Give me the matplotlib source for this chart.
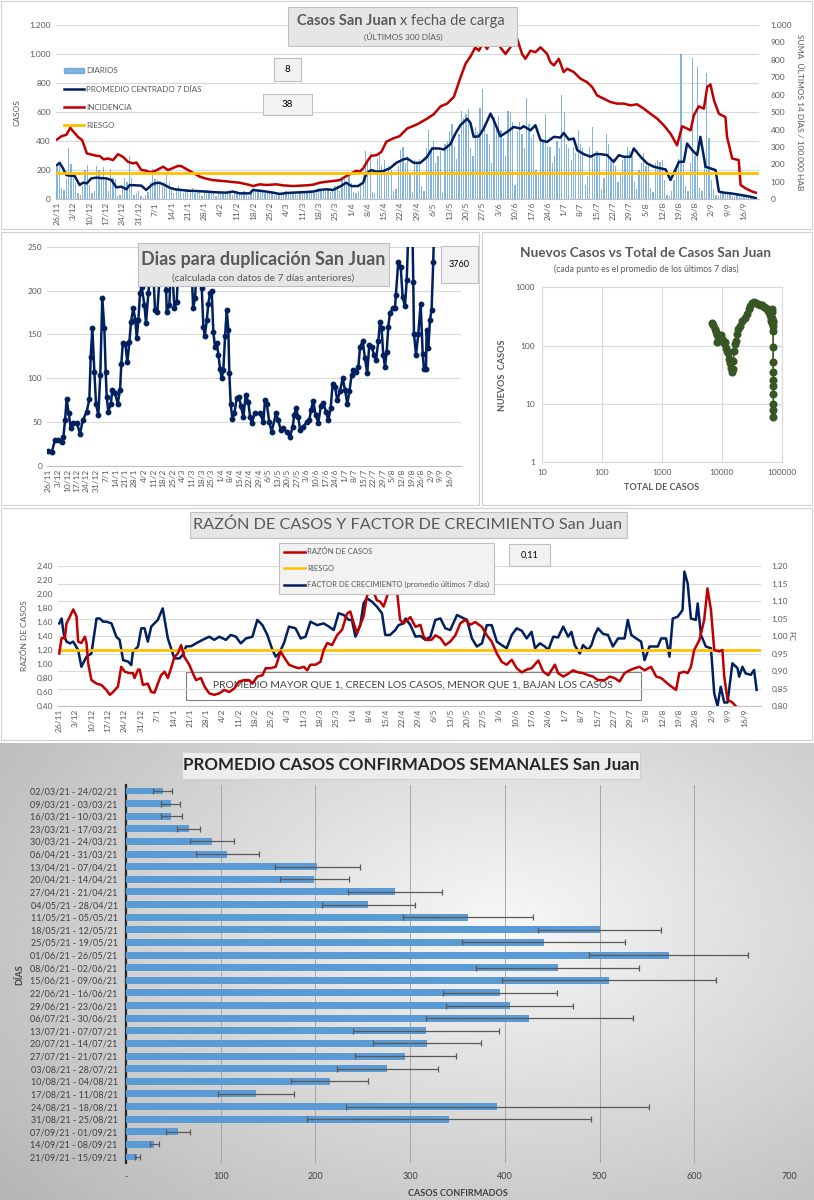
import numpy as np
import matplotlib.pyplot as plt
from matplotlib.patches import Rectangle, Patch
from matplotlib.lines import Line2D

plt.rcParams['font.family'] = ['Lato', 'DejaVu Sans']

# ---------------- datos ----------------
semana_ticks = ["26/11", "3/12", "10/12", "17/12", "24/12", "31/12", "7/1", "14/1", "21/1", "28/1",
                "4/2", "11/2", "18/2", "25/2", "4/3", "11/3", "18/3", "25/3", "1/4", "8/4", "15/4",
                "22/4", "29/4", "6/5", "13/5", "20/5", "27/5", "3/6", "10/6", "17/6", "24/6", "1/7",
                "8/7", "15/7", "22/7", "29/7", "5/8", "12/8", "19/8", "26/8", "2/9", "9/9", "16/9"]

# casos diarios desde 26/11 (300 dias)
diarios = [220, 230, 75, 65, 140, 350, 245,
           150, 110, 45, 30, 95, 200, 235,
           100, 40, 60, 230, 200, 150, 225,
           130, 60, 210, 150, 140, 20, 30,
           90, 150, 120, 300, 150, 30, 40,
           60, 20, 10, 30, 50, 120, 210,
           140, 130, 110, 90, 120, 170, 120,
           80, 40, 70, 90, 60, 40, 55,
           70, 60, 80, 40, 60, 55, 20,
           60, 65, 40, 55, 50, 20, 45,
           55, 40, 45, 60, 50, 30, 40,
           50, 40, 30, 60, 45, 20, 40,
           80, 70, 60, 65, 50, 40, 55,
           50, 45, 30, 40, 35, 30, 45,
           55, 50, 35, 45, 40, 30, 60,
           55, 45, 50, 65, 60, 40, 70,
           80, 70, 55, 60, 75, 50, 70,
           90, 100, 60, 130, 140, 100, 160,
           110, 50, 40, 60, 100, 170, 330,
           250, 320, 50, 45, 280, 310, 230,
           270, 190, 230, 200, 60, 70, 230,
           340, 360, 250, 300, 180, 50, 270,
           260, 280, 90, 60, 350, 480, 330,
           400, 250, 300, 330, 50, 380, 400,
           470, 520, 360, 280, 450, 610, 560,
           590, 620, 350, 300, 500, 460, 630,
           760, 520, 450, 380, 250, 570, 480,
           575, 480, 420, 300, 610, 600, 530,
           100, 470, 530, 450, 350, 700, 520,
           420, 450, 200, 180, 420, 400, 590,
           370, 360, 250, 300, 400, 350, 720,
           600, 380, 350, 270, 360, 320, 480,
           380, 350, 100, 160, 360, 500, 290,
           330, 300, 70, 150, 450, 380, 280,
           280, 230, 120, 180, 270, 300, 360,
           330, 300, 120, 70, 200, 250, 320,
           230, 250, 80, 50, 250, 270, 260,
           270, 130, 30, 20, 60, 130, 200,
           280, 1000, 240, 90, 60, 250, 970,
           300, 910, 80, 60, 250, 870, 420,
           130, 70, 30, 20, 60, 50, 40,
           50, 40, 20, 15, 40, 30, 25,
           20, 15, 10, 8, 12, 8]

prom_dia = [0, 1.1, 2.6, 4, 6.1, 7.6, 9.7, 11.1, 12.8, 14.7, 16.8, 19, 21.1, 23.3, 25.4, 27.5, 29.7,
            31.1, 34, 36.1, 38.2, 40.4, 41.8, 43.9, 46.1, 48.2, 50.4, 53.2, 56.1, 59.6, 63.9, 68.2,
            72.5, 75.3, 78.2, 82.5, 83.9, 86.7, 89.6, 92.4, 95.3, 98.1, 101, 103.9, 106.7, 109.6,
            112.4, 115.3, 118.1, 121, 123.8, 126, 128.8, 131, 132.4, 134.5, 136.7, 139.5, 142.4,
            145.2, 148.1, 149.8, 152.7, 155.5, 158.4, 160.5, 163.4, 165.5, 168.3, 170.5, 172.6,
            175.5, 176.9, 178.3, 180.5, 182.6, 185.5, 186.9, 189.7, 192.6, 195.4, 198.3, 199.7,
            202.6, 204.7, 206.9, 209.7, 212.6, 215.4, 216.8, 219, 221.1, 222.6, 225.4, 228.3,
            230.4, 232.5, 235.4, 238.2, 240.4, 242.5, 245.4, 246.8, 249.7, 252.5, 255.4, 258.2,
            260.4, 262.5, 263.9, 266.1, 268.2, 269.6, 271.8, 273.9, 275.3, 277.5, 279.6, 281.8,
            283.2, 285.3, 288.2, 292.5, 296.7, 299]
prom_val = [235, 251, 213, 167, 162, 160, 98, 114, 110, 144, 149, 146, 144, 133, 82, 87, 69,
            98, 96, 94, 64, 98, 110, 114, 98, 80, 69, 64, 59, 57, 53, 48,
            46, 53, 41, 41, 64, 59, 53, 46, 37, 43, 46, 48, 50, 53,
            64, 69, 64, 87, 114, 91, 91, 114, 178, 201, 190, 194, 213,
            251, 274, 281, 251, 251, 293, 350, 350, 343, 379, 453, 510,
            555, 526, 430, 434, 487, 590, 544, 434, 464, 498, 487, 503,
            475, 510, 407, 395, 430, 425, 457, 411, 418, 338, 311, 293,
            311, 311, 304, 258, 304, 293, 293, 350, 293, 247, 224, 213,
            206, 133, 178, 258, 258, 384, 338, 304, 430, 224, 213, 201,
            53, 46, 41, 30, 18, 8]

inc_dia = [0, 1.9, 4, 5.7, 7.1, 9, 10.8, 12.8, 14.7, 16.8, 18.3, 20, 21.8, 24, 26.1, 28.2, 30.4,
           32.5, 34, 36.1, 38.2, 39.7, 41.1, 43.2, 45.4, 47.5, 49.6, 51.8, 53.2, 56.1, 58.2, 61.1,
           63.9, 66.8, 72.5, 75.3, 78.2, 82.5, 83.9, 86.7, 89.6, 93.9, 96.7, 101, 106.7, 109.6,
           112.4, 115.3, 118.1, 121, 123.8, 126, 128.1, 129.5, 131, 133.1, 134.5, 136.7, 138.8,
           140.9, 143.8, 146.6, 149.8, 154.1, 158.4, 161.2, 164.1, 166.9, 169.8, 172.6, 174.8,
           176.9, 179, 180.5, 182.3, 184, 186.9, 189.7, 191.9, 194, 196.6, 199, 200.4, 202.6,
           204.7, 206.9, 209.7, 211.1, 212.6, 214.7, 216.8, 218.3, 221.1, 224, 226.8, 229, 231.1,
           234, 236.8, 239.7, 242.5, 245.4, 248.2, 251.1, 253.9, 256.8, 259.6, 262.5, 265.3,
           267.5, 269.6, 271.1, 272.5, 274.6, 276.8, 278.2, 279.6, 281.1, 283.2, 286, 286.7,
           288.9, 291.7, 292.5, 294.6, 297.5, 299]
inc_val = [343, 362, 370, 410, 387, 358, 339, 263, 257, 250, 248, 229, 234, 225, 259, 244, 215,
           206, 211, 168, 164, 156, 158, 171, 187, 168, 179, 192, 190, 168, 152, 130,
           118, 110, 103, 99, 95, 82, 76, 86, 82, 86, 80, 76, 80, 84,
           95, 101, 105, 110, 133, 149, 164, 158, 177, 225, 250, 253, 272,
           330, 349, 362, 406, 430, 463, 488, 533, 549, 587, 697, 777,
           819, 872, 853, 895, 863, 930, 872, 834, 872, 933, 834, 806, 853,
           844, 872, 834, 787, 768, 806, 730, 749, 730, 692, 672, 644, 596,
           577, 558, 549, 549, 539, 545, 520, 491, 463, 425, 377, 310,
           419, 406, 396, 482, 533, 520, 644, 659, 568, 491, 472, 358,
           234, 225, 82, 63, 44, 38]
riesgo_inc = 150

# dias para duplicacion (valores > 250 quedan fuera de escala)
dup_dia = [0, 2.5, 4.9, 7.3, 9.8, 11, 12.2, 13.4, 14.9, 16.4, 18.3, 20.8, 23.2, 25.2, 28.1, 30, 31,
           32.2, 33.7, 34.9, 36.6, 38, 39.5, 41, 42, 42.7, 43.9, 45.7, 46.9, 48.8, 50.8, 52.5, 53.4,
           54.5, 56.4, 57.8, 59.3, 60.5, 62.2, 63.7, 64.7, 65.9, 67.1, 68.3, 70.3, 71.5, 73.2, 75,
           77, 78.1, 79.8, 82, 84, 86.2, 86.7, 88.6, 90, 92.3, 94, 96, 98, 100, 102, 104, 106,
           107.4, 109, 111, 112.3, 113.5, 114.5, 116, 117.1, 118.4, 119.6, 120.8, 122, 123.3,
           124.5, 125.7, 126.9, 128.1, 129.4, 130.6, 131.8, 132.5, 133.5, 134.7, 136.2, 137.9,
           139.6, 141, 142.8, 144.5, 146.4, 147.7, 148.9, 151.3, 155, 157.4, 158.6, 159.9, 161.8,
           163.5, 166.7, 168.4, 170.1, 172, 174.5, 176.9, 178.9, 180.1, 181.3, 183, 184.3, 186.7,
           189.2, 191.1, 192.3, 194, 195.7, 197.7, 199.4, 201.3, 203.3, 205, 206.7, 208.2, 209.9,
           211.6, 213.5, 215.5, 217.2, 218.9, 220.4, 222.1, 223.3, 225.3, 227, 228.2, 230.2, 231.8,
           233.5, 235, 236.8, 238.4, 239.9, 241.6, 242.8, 244, 245.2, 246.5, 247.7, 248.9, 250.1,
           252.1, 253.8, 254.5, 256.2, 258, 259.4, 261.1, 262.4, 264.3, 266.3, 267.2, 267.7, 269.2,
           270.9, 272.6, 274.1, 275, 276.5, 277, 278.2, 279.4, 280.6, 281.8, 283]
dup_val = [17, 16, 30, 30, 27, 33, 52, 76, 60, 43, 49, 49, 37, 52, 62, 76, 124,
           157, 107, 71, 58, 104, 191, 157, 107, 79, 62, 71, 87, 83, 71, 87, 116,
           140, 139, 118, 141, 164, 180, 166, 146, 166, 197, 204, 184, 163, 197, 230,
           215, 178, 176, 230, 260, 201, 176, 184, 240, 180, 187, 260, 300, 280, 320, 260, 180,
           191, 240, 260, 203, 159, 148, 166, 185, 197, 199, 153, 136, 140,
           127, 111, 100, 109, 148, 178, 155, 106, 71, 54, 60, 77,
           79, 68, 56, 81, 73, 56, 49, 60, 60, 50, 75, 71, 50,
           39, 60, 52, 41, 43, 39, 33, 45, 58, 66, 56, 41, 45,
           50, 52, 64, 74, 58, 49, 68, 72, 62, 52, 66, 94, 90,
           75, 85, 100, 87, 71, 85, 104, 109, 107, 113, 136, 142, 123,
           106, 138, 136, 127, 121, 142, 164, 157, 127, 113, 130, 159, 174,
           180, 180, 195, 233, 227, 193, 182, 212, 300, 300, 210, 151, 127,
           151, 185, 128, 111, 111, 155, 134, 166, 178, 232, 300]

# nuevos casos (promedio 7 dias) vs total de casos
total_casos = [7000, 7300, 7700, 8000, 8300, 8500, 8800, 9300, 9800, 10300, 10800, 11300, 11800,
               12300, 12800, 13300, 13800, 14300, 14700, 15200, 15600, 16000, 16500, 17000, 17800,
               19000, 20500, 22000, 24000, 26000, 28000, 30000, 32000, 34000, 37000, 40000, 43000,
               47000, 51000, 55000, 58000, 61000, 64000, 66000, 67500, 68500, 69000, 69500, 70000,
               70500, 71000, 71400, 71700, 71900, 72000, 72100, 72200, 72300, 72400, 72500, 72550,
               72600]
nuevos_casos = [240, 230, 190, 170, 150, 115, 150, 140, 150, 130, 110, 115, 90,
                80, 75, 60, 50, 42, 36, 40, 55, 80, 105, 120, 160,
                190, 215, 260, 300, 350, 420, 480, 530, 570, 540, 520, 500,
                490, 460, 440, 400, 370, 330, 300, 260, 240, 420, 380, 300,
                260, 250, 220, 180, 95, 52, 35, 26, 20, 15, 10, 8,
                6]

razon_dia = [0, 1, 2.4, 3.1, 4.6, 6, 7.4, 8.1, 9.5, 11, 11.7, 12.4, 13.8, 16, 18.1, 20.2, 21.7,
             23.1, 25.2, 26.6, 28.1, 30.2, 31.6, 32.3, 33.8, 34.5, 35.9, 38, 39.5, 40.9, 42.3,
             43.7, 45.2, 46.6, 48, 49.4, 50.9, 52.3, 53.7, 55.8, 57.3, 58.7, 60.8, 62.3, 64.4,
             66.5, 68.7, 70.8, 72.9, 75.1, 77.2, 79.3, 81.5, 82.9, 85, 87.2, 88.6, 90.7, 92.9,
             95, 96.4, 98.6, 100.7, 102.8, 105, 106.4, 107.8, 110, 112.1, 113.5, 115, 117.1,
             119.2, 121.4, 123.5, 124.9, 126.4, 127.8, 129.2, 130.6, 132, 133.5, 136.3, 137.7,
             139.2, 141.3, 143.4, 144.9, 146.3, 147.7, 150.7, 152.9, 155, 156.4, 157.9, 160,
             161.4, 163.6, 165.7, 167.8, 170, 172.1, 174.2, 176.4, 178.5, 181.4, 183.5, 185.6,
             187.8, 189.9, 192, 194.2, 196.3, 198.5, 200.6, 202.7, 205.6, 207.7, 209.9, 212.7,
             214.1, 216.3, 218.4, 220.5, 222.7, 224.8, 227, 229.1, 231.2, 234.1, 236.2, 238.3,
             240.5, 242.6, 244.8, 246.9, 249, 251.2, 254, 256.2, 258.3, 261.1, 262.6, 264.7,
             266.1, 268.3, 269.7, 271.1, 272.5, 274.7, 276.8, 278.2, 279.7, 281.1, 283.2, 284.6,
             285.4, 286.8, 288.9, 290.3]
razon_val = [1.15, 1.37, 1.37, 1.58, 1.68, 1.78, 1.68, 1.32, 1.30, 1.39, 1.30, 1.01, 0.77, 0.72,
             0.70, 0.63, 0.56, 0.60, 0.68, 0.96, 0.89, 0.87, 0.87, 0.80, 0.92, 0.92, 0.70, 0.72,
             0.60, 0.59, 0.72, 0.84, 0.89, 0.80, 0.94, 1.10, 1.15, 1.27, 1.10, 0.99, 0.87, 0.77,
             0.80, 0.68, 0.58, 0.56, 0.58, 0.63, 0.60, 0.65, 0.75, 0.77, 0.77, 0.72, 0.82, 0.84,
             0.94, 0.94, 0.96, 1.18, 1.10, 0.99, 0.96, 0.94, 0.96, 0.91, 0.99, 0.99, 1.03, 1.20,
             1.30, 1.27, 1.41, 1.49, 1.72, 1.75, 1.58, 1.44, 1.56, 1.68, 1.96, 2.15, 1.91, 1.89,
             1.82, 2.03, 2.30, 2.05, 1.63, 1.58, 1.67, 1.53, 1.56, 1.39, 1.34, 1.35,
             1.41, 1.37, 1.27, 1.32, 1.41, 1.58, 1.63, 1.56, 1.60, 1.53, 1.41, 1.32,
             1.15, 1.03, 0.99, 1.06, 0.94, 0.88, 0.92, 0.94, 1.05, 0.89, 0.84, 0.99,
             0.87, 0.82, 0.86, 0.91, 0.88, 0.87, 0.84, 0.82, 0.77, 0.77, 0.82, 0.80,
             0.75, 0.87, 0.91, 0.94, 0.96, 0.91, 0.96, 0.82, 0.80, 0.72, 0.68, 0.63,
             0.87, 0.89, 0.87, 0.96, 1.20, 1.34, 1.63, 2.08, 1.77, 1.20, 1.18, 1.20,
             0.82, 0.49, 0.45, 0.40]
riesgo_razon = 1.2

fc_dia = [0, 1, 2, 3.1, 4.6, 6, 8.1, 9.5, 11.7, 13.8, 16, 17.4, 18.8, 20.2, 22.4, 24.5, 25.9, 27.4,
          29.5, 30.9, 31.6, 33.8, 35.2, 36.6, 38, 39.5, 42.3, 44.4, 46.6, 49.4, 51.6, 53, 54.4,
          56.6, 58.7, 61.5, 64.4, 66.5, 68.7, 71.5, 73.6, 75.8, 77.9, 80.1, 82.9, 85, 87.2, 89.3,
          91.5, 92.9, 94.3, 96.4, 98.6, 101.4, 103.6, 105.7, 107.8, 110.7, 113.5, 115.7, 117.8,
          119.9, 122.1, 124.2, 125.6, 127.1, 129.2, 130.6, 132, 134.2, 136.3, 138.5, 139.9, 142,
          144.2, 145.6, 147.7, 148.6, 150.7, 152.9, 155, 157.1, 159.3, 161.4, 163.6, 165.7,
          167.8, 170.7, 172.8, 175, 177.1, 179.2, 181.4, 183.5, 185.6, 187.8, 189.9, 192, 194.2,
          196.3, 198.5, 200.6, 202.7, 204.2, 206.3, 208.4, 209.9, 212, 214.1, 216.3, 218.4,
          219.8, 221.2, 223.4, 224.8, 227, 228.4, 229.8, 231.2, 233.4, 235.5, 237.6, 239.8,
          242.6, 244, 245.5, 247.6, 249.7, 251.2, 253.3, 256.9, 258.3, 260.4, 261.9, 263.3,
          265.4, 267.5, 268.3, 269.7, 271.1, 273.2, 274, 275.4, 277.5, 279.7, 281.1, 282.5,
          283.9, 285.4, 286.8, 288.9, 291.1, 291.8, 293.2, 294.6, 296.8, 298.2, 299.3]
fc_val = [1.036, 1.050, 1.003, 0.984, 0.979, 0.984, 0.960, 0.912, 0.941, 0.950, 1.050, 1.050,
          1.041, 1.041, 1.036, 0.998, 0.989, 0.931, 0.927, 0.917, 0.955, 0.970, 1.022, 1.022,
          0.984, 1.027, 1.046, 1.079, 0.993, 0.936, 0.936, 0.946, 0.970, 0.971, 0.979, 0.989,
          0.998, 0.989, 0.998, 0.989, 1.003, 0.998, 0.979, 0.993, 0.998, 1.046, 1.031, 1.003,
          0.960, 0.941, 0.950, 0.979, 1.027, 1.022, 0.993, 0.998, 1.041, 1.031, 1.036, 1.027,
          1.017, 1.065, 1.060, 1.046, 1.046, 0.998, 1.031, 1.093, 1.108, 1.098, 1.084, 1.065,
          1.003, 1.003, 1.017, 1.031, 1.036, 1.050, 1.031, 0.998, 1.000, 0.989, 0.998, 1.046,
          1.050, 1.022, 1.017, 1.060, 1.053, 1.046, 0.993, 0.970, 0.979, 1.031, 1.031, 0.984,
          0.974, 0.965, 1.003, 1.022, 1.015, 0.993, 1.012, 0.965, 0.979, 0.970, 0.960, 0.998,
          0.996, 1.027, 0.998, 1.012, 0.974, 0.950, 0.974, 0.960, 0.974, 1.003, 1.022, 1.006,
          1.003, 0.970, 0.993, 0.993, 1.046, 1.003, 0.993, 0.984, 0.931, 0.970, 0.970, 0.993,
          0.993, 0.941, 1.050, 1.055, 1.074, 1.184, 1.150, 1.050, 1.046, 1.093, 1.003, 0.970,
          0.965, 0.836, 0.800, 0.855, 0.810, 0.810, 0.922, 0.908, 0.884, 0.912, 0.893, 0.889,
          0.903, 0.846]

semanas = ["02/03/21 - 24/02/21", "09/03/21 - 03/03/21", "16/03/21 - 10/03/21", "23/03/21 - 17/03/21",
           "30/03/21 - 24/03/21", "06/04/21 - 31/03/21", "13/04/21 - 07/04/21", "20/04/21 - 14/04/21",
           "27/04/21 - 21/04/21", "04/05/21 - 28/04/21", "11/05/21 - 05/05/21", "18/05/21 - 12/05/21",
           "25/05/21 - 19/05/21", "01/06/21 - 26/05/21", "08/06/21 - 02/06/21", "15/06/21 - 09/06/21",
           "22/06/21 - 16/06/21", "29/06/21 - 23/06/21", "06/07/21 - 30/06/21", "13/07/21 - 07/07/21",
           "20/07/21 - 14/07/21", "27/07/21 - 21/07/21", "03/08/21 - 28/07/21", "10/08/21 - 04/08/21",
           "17/08/21 - 11/08/21", "24/08/21 - 18/08/21", "31/08/21 - 25/08/21", "07/09/21 - 01/09/21",
           "14/09/21 - 08/09/21", "21/09/21 - 15/09/21"]
prom_semanal = [39, 47, 48, 66, 91, 107, 202, 199, 284, 256, 361, 500, 441, 573, 456, 510, 395, 405,
                426, 317, 318, 295, 276, 215, 137, 392, 341, 55, 30, 12]
desvio_semanal = [10, 10, 11, 12, 23, 33, 45, 36, 50, 49, 69, 65, 86, 84, 86, 113, 60, 67, 109, 77,
                  57, 53, 53, 41, 40, 160, 150, 13, 5, 3]

# ---------------- figura ----------------
W, H = 814, 1200
GRIS_TXT = '#595959'
GRID = '#D9D9D9'
AZUL = '#5B9BD5'
NAVY = '#002060'
ROJO = '#C00000'
AMARILLO = '#FFC000'


def box(x0, y0, x1, y1):
    return [x0 / W, 1 - y1 / H, (x1 - x0) / W, (y1 - y0) / H]


def fx(x):
    return x / W


def fy(y):
    return 1 - y / H


def miles(v):
    return f"{v:,.0f}".replace(',', '.')


def coma(v):
    return f"{v:.2f}".replace('.', ',')


def caja(x0, y0, x1, y1, fc='#E7E6E6', ec='#BFBFBF', z=5):
    fig.patches.append(Rectangle((fx(x0), fy(y1)), (x1 - x0) / W, (y1 - y0) / H,
                                 transform=fig.transFigure, facecolor=fc, edgecolor=ec,
                                 lw=0.8, zorder=z))


fig = plt.figure(figsize=(8.14, 12), dpi=100)

# marcos de los paneles (debajo de todo)
for (a, b, c, d) in [(1, 1, 812, 229), (1, 232, 479, 505), (482, 232, 812, 505), (1, 508, 812, 740)]:
    caja(a, b, c, d, fc='white', ec='#D0D0D0', z=-5)

# fondo degradado del panel inferior
axbg = fig.add_axes(box(0, 743, 814, 1200))
axbg.set_zorder(-4)
yy, xx = np.mgrid[0:1:200j, 0:1:200j]
r = np.sqrt(((xx - 0.62) / 0.75) ** 2 + ((yy - 0.40) / 0.85) ** 2)
grad = np.clip(0.97 - 0.24 * r, 0.7, 1)
axbg.imshow(grad, cmap='gray', vmin=0, vmax=1, aspect='auto', extent=(0, 1, 0, 1))
axbg.axis('off')

dias = np.arange(len(diarios))
semana_pos = np.arange(len(semana_ticks)) * 7


def eje_fechas(ax):
    ax.set_xticks(semana_pos)
    ax.set_xticklabels(semana_ticks, rotation=90, fontsize=6, color=GRIS_TXT)
    ax.tick_params(axis='x', length=0, pad=2)
    for s in ['top', 'right', 'left']:
        ax.spines[s].set_visible(False)
    ax.spines['bottom'].set_color('#BFBFBF')


# ---- panel 1 ----
ax1 = fig.add_axes(box(55.8, 25, 759.3, 199.3))
ax1.bar(dias, diarios, width=0.55, color=AZUL, alpha=0.75, zorder=2)
ax1.plot(prom_dia, prom_val, color=NAVY, lw=1.8, zorder=3)
ax1.set_xlim(-0.5, 300.5)
ax1.set_ylim(0, 1200)
ax1.set_yticks(range(0, 1201, 200))
ax1.set_yticklabels([miles(v) for v in range(0, 1201, 200)], fontsize=6, color=GRIS_TXT)
ax1.tick_params(axis='y', length=0)
ax1.grid(axis='y', color=GRID, lw=0.8, zorder=0)
ax1.set_axisbelow(True)
eje_fechas(ax1)
ax1.set_ylabel('CASOS', fontsize=6, color=GRIS_TXT, labelpad=6)
ax1r = ax1.twinx()
ax1r.plot(inc_dia, inc_val, color=ROJO, lw=1.8)
ax1r.axhline(riesgo_inc, color=AMARILLO, lw=2)
ax1r.set_ylim(0, 1000)
ax1r.set_yticks(range(0, 1001, 100))
ax1r.set_yticklabels([miles(v) for v in range(0, 1001, 100)], fontsize=6, color=GRIS_TXT)
ax1r.tick_params(axis='y', length=0, pad=8)
for s in ax1r.spines.values():
    s.set_visible(False)
ax1r.set_ylabel('SUMA  ÚLTIMOS 14 DÍAS / 100.000 HAB', fontsize=6, color=GRIS_TXT,
                rotation=270, labelpad=8)
handles = [Patch(color=AZUL, alpha=0.75), Line2D([], [], color=NAVY, lw=1.8),
           Line2D([], [], color=ROJO, lw=1.8), Line2D([], [], color=AMARILLO, lw=2)]
fig.legend(handles, ['DIARIOS', 'PROMEDIO CENTRADO 7 DÍAS', 'INCIDENCIA', 'RIESGO'],
           loc='upper left', bbox_to_anchor=(fx(61), fy(64)), frameon=False, fontsize=5.8,
           handlelength=2.4, handleheight=0.6, labelspacing=1.4, borderaxespad=0,
           labelcolor=GRIS_TXT, handletextpad=0.3)
caja(288, 7, 517, 46)
fig.text(fx(396), fy(21), 'Casos San Juan', fontsize=10.5, weight='bold', color=GRIS_TXT,
         ha='right', va='center', zorder=6)
fig.text(fx(400), fy(21), 'x fecha de carga', fontsize=10.5, color=GRIS_TXT,
         ha='left', va='center', zorder=6)
fig.text(fx(403), fy(37), '(ÚLTIMOS 300 DÍAS)', fontsize=6, color=GRIS_TXT,
         ha='center', va='center', zorder=6)
caja(274, 58, 301, 81, fc='#F2F2F2')
fig.text(fx(287.5), fy(69.5), '8', fontsize=7, ha='center', va='center', zorder=6)
caja(263, 94, 312, 115, fc='#F2F2F2')
fig.text(fx(287.5), fy(104.5), '38', fontsize=7, ha='center', va='center', zorder=6)

# ---- panel 2 ----
ax2 = fig.add_axes(box(47, 246.7, 460.8, 466))
ax2.plot(dup_dia, dup_val, color=NAVY, lw=1.8, marker='o', ms=3.2)
ax2.set_xlim(-1, 302)
ax2.set_ylim(0, 250)
ax2.set_yticks(range(0, 251, 50))
ax2.set_yticklabels([str(v) for v in range(0, 251, 50)], fontsize=6, color=GRIS_TXT)
ax2.tick_params(axis='y', length=0)
ax2.grid(axis='y', color=GRID, lw=0.8)
ax2.set_axisbelow(True)
eje_fechas(ax2)
caja(138, 243, 389, 286)
fig.text(fx(263.5), fy(259), 'Dias para duplicación San Juan', fontsize=12.9, weight='bold',
         color=GRIS_TXT, ha='center', va='center', zorder=6)
fig.text(fx(263.5), fy(278), '(calculada con datos de 7 días anteriores)', fontsize=7.3,
         color=GRIS_TXT, ha='center', va='center', zorder=6)
caja(441, 246, 478, 283, fc='#F2F2F2')
fig.text(fx(459.5), fy(264.5), '3760', fontsize=6.5, ha='center', va='center', zorder=6)

# ---- panel 3 ----
ax3 = fig.add_axes(box(541.7, 287.3, 781.7, 462.3))
ax3.plot(total_casos, nuevos_casos, color='#375623', lw=1.2, marker='o', ms=4.8)
ax3.set_xscale('log')
ax3.set_yscale('log')
ax3.set_xlim(10, 100000)
ax3.set_ylim(1, 1000)
ax3.set_xticks([10, 100, 1000, 10000, 100000])
ax3.set_xticklabels(['10', '100', '1000', '10000', '100000'], fontsize=6, color=GRIS_TXT)
ax3.set_yticks([1, 10, 100, 1000])
ax3.set_yticklabels(['1', '10', '100', '1000'], fontsize=6, color=GRIS_TXT)
ax3.minorticks_off()
ax3.tick_params(length=0, pad=5)
ax3.grid(color=GRID, lw=0.8)
for s in ax3.spines.values():
    s.set_color(GRID)
ax3.set_xlabel('TOTAL DE CASOS', fontsize=6.5, weight='bold', color=GRIS_TXT, labelpad=5)
ax3.set_ylabel('NUEVOS  CASOS', fontsize=6.5, weight='bold', color=GRIS_TXT, labelpad=6)
fig.text(fx(646), fy(253), 'Nuevos Casos vs Total de Casos San Juan', fontsize=9.8, weight='bold',
         color=GRIS_TXT, ha='center', va='center')
fig.text(fx(646), fy(269), '(cada punto es el promedio de los últimos 7 días)', fontsize=6.2,
         color=GRIS_TXT, ha='center', va='center')

# ---- panel 4 ----
# recuadro de texto por debajo de las curvas
caja(186, 672, 641, 700, fc='white', ec='#7F7F7F', z=-3)
fig.text(fx(413), fy(686), 'PROMEDIO MAYOR QUE 1, CRECEN LOS CASOS, MENOR QUE 1, BAJAN LOS CASOS',
         fontsize=7.4, color='#404040', ha='center', va='center', zorder=-2)
ax4 = fig.add_axes(box(58.1, 566, 760.6, 706))
ax4.plot(razon_dia, razon_val, color=ROJO, lw=1.8, zorder=3)
ax4.axhline(riesgo_razon, color=AMARILLO, lw=2, zorder=2)
ax4.set_xlim(-0.5, 301)
ax4.set_ylim(0.4, 2.4)
ax4.set_yticks(np.arange(0.4, 2.41, 0.2))
ax4.set_yticklabels([coma(v) for v in np.arange(0.4, 2.41, 0.2)], fontsize=6, color=GRIS_TXT)
ax4.tick_params(axis='y', length=0)
eje_fechas(ax4)
ax4.set_ylabel('RAZÓN DE CASOS', fontsize=6, color=GRIS_TXT, labelpad=6)
ax4r = ax4.twinx()
ax4r.plot(fc_dia, fc_val, color=NAVY, lw=1.8)
ax4r.set_ylim(0.8, 1.2)
ax4r.set_yticks(np.arange(0.8, 1.201, 0.05))
ax4r.set_yticklabels([coma(v) for v in np.arange(0.8, 1.201, 0.05)], fontsize=6, color=GRIS_TXT)
ax4r.tick_params(axis='y', length=0, pad=8)
ax4r.grid(axis='y', color=GRID, lw=0.8)
ax4r.set_axisbelow(True)
for s in ax4r.spines.values():
    s.set_visible(False)
ax4r.set_ylabel('FC', fontsize=6, color=GRIS_TXT, rotation=270, labelpad=4)
ax4r.set_zorder(ax4.get_zorder() - 1)
ax4.patch.set_visible(False)
ax4r.patch.set_visible(False)
caja(190, 512, 627, 538)
fig.text(fx(408), fy(525), 'RAZÓN DE CASOS Y FACTOR DE CRECIMIENTO San Juan', fontsize=11.7,
         color=GRIS_TXT, ha='center', va='center', zorder=6)
caja(279, 543, 494, 594, fc='#F2F2F2')
leg_items = [('RAZÓN DE CASOS', ROJO, 551.5), ('RIESGO', AMARILLO, 568),
             ('FACTOR DE CRECIMIENTO (promedio últimos 7 días)', NAVY, 584.5)]
for txt, col, yy_ in leg_items:
    fig.lines.append(Line2D([fx(284), fx(305)], [fy(yy_), fy(yy_)], transform=fig.transFigure,
                            color=col, lw=1.8, zorder=7))
    fig.text(fx(307), fy(yy_), txt, fontsize=5.5, color=GRIS_TXT, va='center', zorder=7)
caja(509, 544, 550, 566, fc='#F2F2F2')
fig.text(fx(529.5), fy(555), '0,11', fontsize=6.5, ha='center', va='center', zorder=6)

# ---- panel 5 ----
ax5 = fig.add_axes(box(126, 784.7, 789, 1163.3))
ax5.patch.set_visible(False)
yb = np.arange(len(semanas))
ax5.barh(yb, prom_semanal, height=0.55, xerr=desvio_semanal, color=AZUL, zorder=3,
         error_kw=dict(ecolor='#595959', lw=0.9, capsize=2, capthick=0.9, zorder=4))
ax5.set_ylim(len(semanas) - 0.5, -0.5)
ax5.set_xlim(0, 700)
ax5.set_yticks(yb)
ax5.set_yticklabels(semanas, fontsize=6.5, color='#404040')
ax5.set_xticks(range(0, 701, 100))
ax5.set_xticklabels(['-'] + [str(v) for v in range(100, 701, 100)], fontsize=6.5, color='#404040')
ax5.tick_params(length=0, pad=6)
ax5.grid(axis='x', color='#A6A6A6', lw=0.7, zorder=0)
for s in ['top', 'right', 'bottom']:
    ax5.spines[s].set_visible(False)
ax5.spines['left'].set_linewidth(1.6)
ax5.spines['left'].set_color('#262626')
ax5.set_xlabel('CASOS CONFIRMADOS', fontsize=6.5, weight='bold', color='#404040', labelpad=6)
fig.text(fx(20), fy(975), 'DÍAS', fontsize=6.5, weight='bold', color='#404040', rotation=90,
         ha='center', va='center')
caja(182, 752, 640, 779, fc='#EDEDED', ec='#D0D0D0')
fig.text(fx(411), fy(765.5), 'PROMEDIO CASOS CONFIRMADOS SEMANALES San Juan', fontsize=12.2,
         weight='bold', color='#262626', ha='center', va='center', zorder=6)

fig.savefig('out.png', dpi=100)
